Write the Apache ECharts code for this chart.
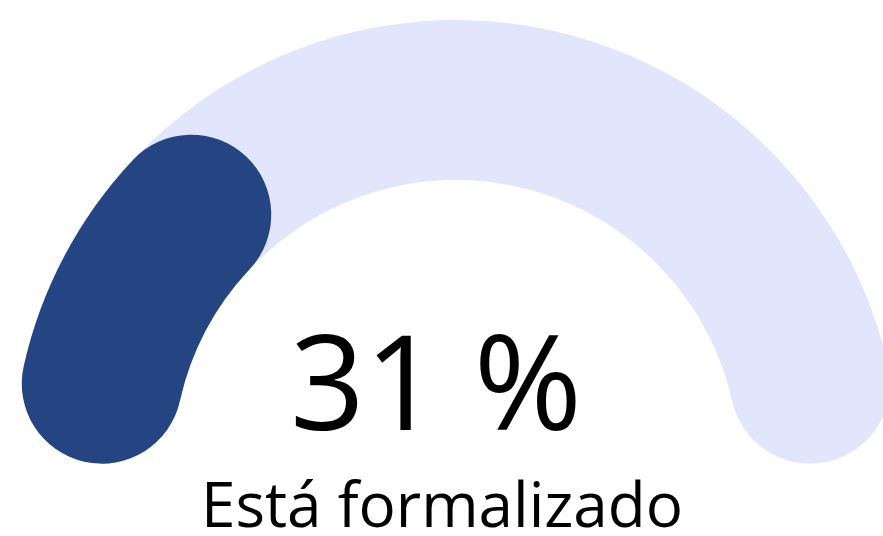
<!DOCTYPE html>
<html>
<head>
<meta charset="utf-8">
<title>Está formalizado</title>
<script src="https://cdn.jsdelivr.net/npm/echarts@6/dist/echarts.min.js"></script>
<style>
  html, body { margin: 0; padding: 0; background: #fff; }
  #main { width: 883px; height: 536px; }
</style>
</head>
<body>
<div id="main"></div>
<script>
// datos
const names = ["Está formalizado"];
const values = [31];

// geometria del arco (semicirculo con tapas redondas dentro del rango)
const outerR = 443;
const barW = 160;
const midR = outerR - barW / 2;
const capDeg = (barW / 2 / midR) * 180 / Math.PI; // ~12.6 grados
const degPerUnit = 180 / 100;

const chart = echarts.init(document.getElementById("main"));

const option = {
  backgroundColor: "#ffffff",
  animation: false,
  series: [
    {
      type: "gauge",
      center: [456, 463],
      radius: outerR,
      startAngle: 180 - capDeg,
      endAngle: capDeg,
      // min compensa las tapas para que 0..100 cubra 180..0 grados
      min: (2 * capDeg) / degPerUnit,
      max: 100,
      progress: {
        show: true,
        roundCap: true,
        width: barW,
        itemStyle: { color: "#254582" },
      },
      axisLine: {
        roundCap: true,
        lineStyle: { width: barW, color: [[1, "#e2e6fd"]] },
      },
      pointer: { show: false },
      axisTick: { show: false },
      splitLine: { show: false },
      axisLabel: { show: false },
      anchor: { show: false },
      title: {
        offsetCenter: [-14, 46],
        fontSize: 62,
        color: "#000",
        fontFamily: "Open Sans",
      },
      detail: {
        valueAnimation: false,
        offsetCenter: [-20, -70],
        fontSize: 131,
        fontWeight: "normal",
        color: "#000",
        fontFamily: "Open Sans",
        formatter: "{value} %",
      },
      data: [{ value: values[0], name: names[0] }],
    },
  ],
};

chart.setOption(option);
</script>
</body>
</html>
